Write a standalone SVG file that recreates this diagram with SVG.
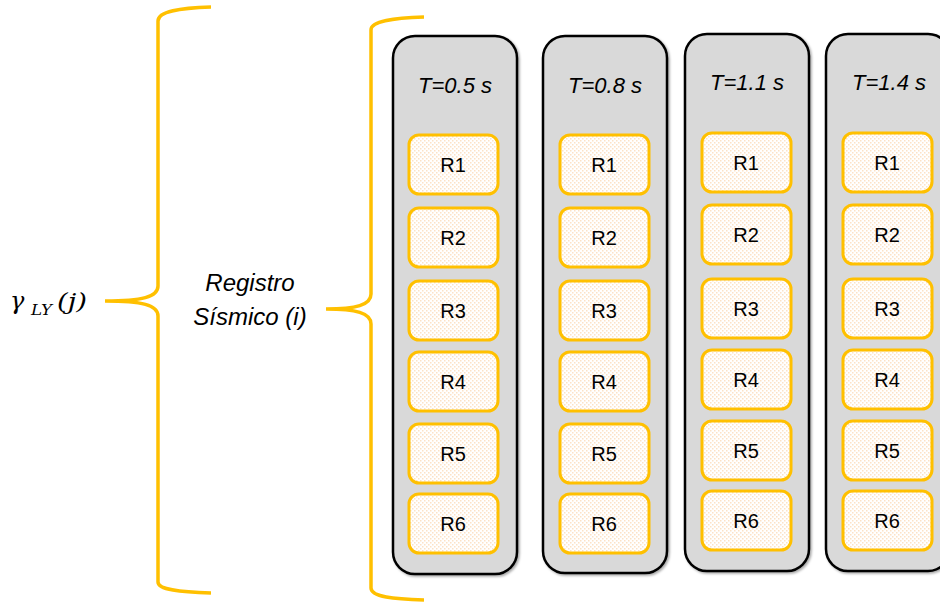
<svg xmlns="http://www.w3.org/2000/svg" width="940" height="602" viewBox="0 0 940 602">
<defs>
<pattern id="dots" width="4" height="4" patternUnits="userSpaceOnUse">
<rect width="4" height="4" fill="#ffffff"/>
<rect x="0" y="0" width="1.5" height="1.5" fill="#fce2c6"/>
<rect x="2" y="2" width="1.5" height="1.5" fill="#fce2c6"/>
</pattern>
<filter id="sh" x="-10%" y="-10%" width="130%" height="130%">
<feDropShadow dx="1.5" dy="1.5" stdDeviation="1.2" flood-color="#000" flood-opacity="0.35"/>
</filter>
</defs>
<style>
.col{fill:#d9d9d9;stroke:#000;stroke-width:2.5;filter:url(#sh)}
.r{fill:url(#dots);stroke:#ffc000;stroke-width:3}
.rt{font-family:"Liberation Sans",Arial,sans-serif;font-size:20px;fill:#000;text-anchor:middle}
.hd{font-family:"Liberation Sans",Arial,sans-serif;font-size:22px;font-style:italic;fill:#000;text-anchor:middle}
.br{fill:none;stroke:#ffc000;stroke-width:3.5;stroke-linecap:butt}
.lb{font-family:"Liberation Sans",Arial,sans-serif;font-size:24px;font-style:italic;fill:#000;text-anchor:middle}
.gm{font-family:"DejaVu Serif","Liberation Serif",serif;font-style:italic;fill:#000}
</style>
<rect width="940" height="602" fill="#fff"/>

<g id="connectors">
<path class="br" d="M211,7 C180,8 158,11 158,21 L158,286 C158,297 142,301 105,301 C142,301 158,305 158,316 L158,582 C158,590 180,592 211,593"/>
<path class="br" d="M424,17 C394,18 371,21 371,30 L371,294 C371,305 356,309 326,309 C356,309 371,313 371,324 L371,588 C371,597 394,599 424,600"/>
</g>

<g id="gamma">
<text class="gm" x="10" y="309" font-size="24">γ</text>
<text class="gm" x="31" y="315" font-size="15" textLength="21" lengthAdjust="spacingAndGlyphs">LY</text>
<text class="gm" x="57" y="309" font-size="23" textLength="30" lengthAdjust="spacingAndGlyphs">(j)</text>
</g>

<g id="registro">
<text class="lb" x="250" y="291">Registro</text>
<text class="lb" x="250" y="325">Sísmico (i)</text>
</g>

<g id="col1">
<rect class="col" x="393" y="36" width="124" height="538" rx="22"/>
<text class="hd" x="455" y="93">T=0.5 s</text>
<rect class="r" x="409" y="135" width="89" height="59" rx="10"/><text class="rt" x="453" y="172">R1</text>
<rect class="r" x="409" y="208" width="89" height="59" rx="10"/><text class="rt" x="453" y="245">R2</text>
<rect class="r" x="409" y="281" width="89" height="59" rx="10"/><text class="rt" x="453" y="318">R3</text>
<rect class="r" x="409" y="352" width="89" height="59" rx="10"/><text class="rt" x="453" y="389">R4</text>
<rect class="r" x="409" y="424" width="89" height="59" rx="10"/><text class="rt" x="453" y="461">R5</text>
<rect class="r" x="409" y="494" width="89" height="59" rx="10"/><text class="rt" x="453" y="531">R6</text>
</g>

<g id="col2">
<rect class="col" x="543" y="36" width="124" height="537" rx="22"/>
<text class="hd" x="605" y="93">T=0.8 s</text>
<rect class="r" x="560" y="135" width="89" height="59" rx="10"/><text class="rt" x="604" y="172">R1</text>
<rect class="r" x="560" y="208" width="89" height="59" rx="10"/><text class="rt" x="604" y="245">R2</text>
<rect class="r" x="560" y="281" width="89" height="59" rx="10"/><text class="rt" x="604" y="318">R3</text>
<rect class="r" x="560" y="352" width="89" height="59" rx="10"/><text class="rt" x="604" y="389">R4</text>
<rect class="r" x="560" y="424" width="89" height="59" rx="10"/><text class="rt" x="604" y="461">R5</text>
<rect class="r" x="560" y="494" width="89" height="59" rx="10"/><text class="rt" x="604" y="531">R6</text>
</g>

<g id="col3">
<rect class="col" x="685" y="34" width="124" height="537" rx="22"/>
<text class="hd" x="747" y="90">T=1.1 s</text>
<rect class="r" x="702" y="133" width="89" height="59" rx="10"/><text class="rt" x="746" y="170">R1</text>
<rect class="r" x="702" y="205" width="89" height="59" rx="10"/><text class="rt" x="746" y="242">R2</text>
<rect class="r" x="702" y="279" width="89" height="59" rx="10"/><text class="rt" x="746" y="316">R3</text>
<rect class="r" x="702" y="350" width="89" height="59" rx="10"/><text class="rt" x="746" y="387">R4</text>
<rect class="r" x="702" y="421" width="89" height="59" rx="10"/><text class="rt" x="746" y="458">R5</text>
<rect class="r" x="702" y="491" width="89" height="59" rx="10"/><text class="rt" x="746" y="528">R6</text>
</g>

<g id="col4">
<rect class="col" x="826" y="34" width="124" height="537" rx="22"/>
<text class="hd" x="889" y="90">T=1.4 s</text>
<rect class="r" x="843" y="133" width="89" height="59" rx="10"/><text class="rt" x="887" y="170">R1</text>
<rect class="r" x="843" y="205" width="89" height="59" rx="10"/><text class="rt" x="887" y="242">R2</text>
<rect class="r" x="843" y="279" width="89" height="59" rx="10"/><text class="rt" x="887" y="316">R3</text>
<rect class="r" x="843" y="350" width="89" height="59" rx="10"/><text class="rt" x="887" y="387">R4</text>
<rect class="r" x="843" y="421" width="89" height="59" rx="10"/><text class="rt" x="887" y="458">R5</text>
<rect class="r" x="843" y="491" width="89" height="59" rx="10"/><text class="rt" x="887" y="528">R6</text>
</g>
</svg>
